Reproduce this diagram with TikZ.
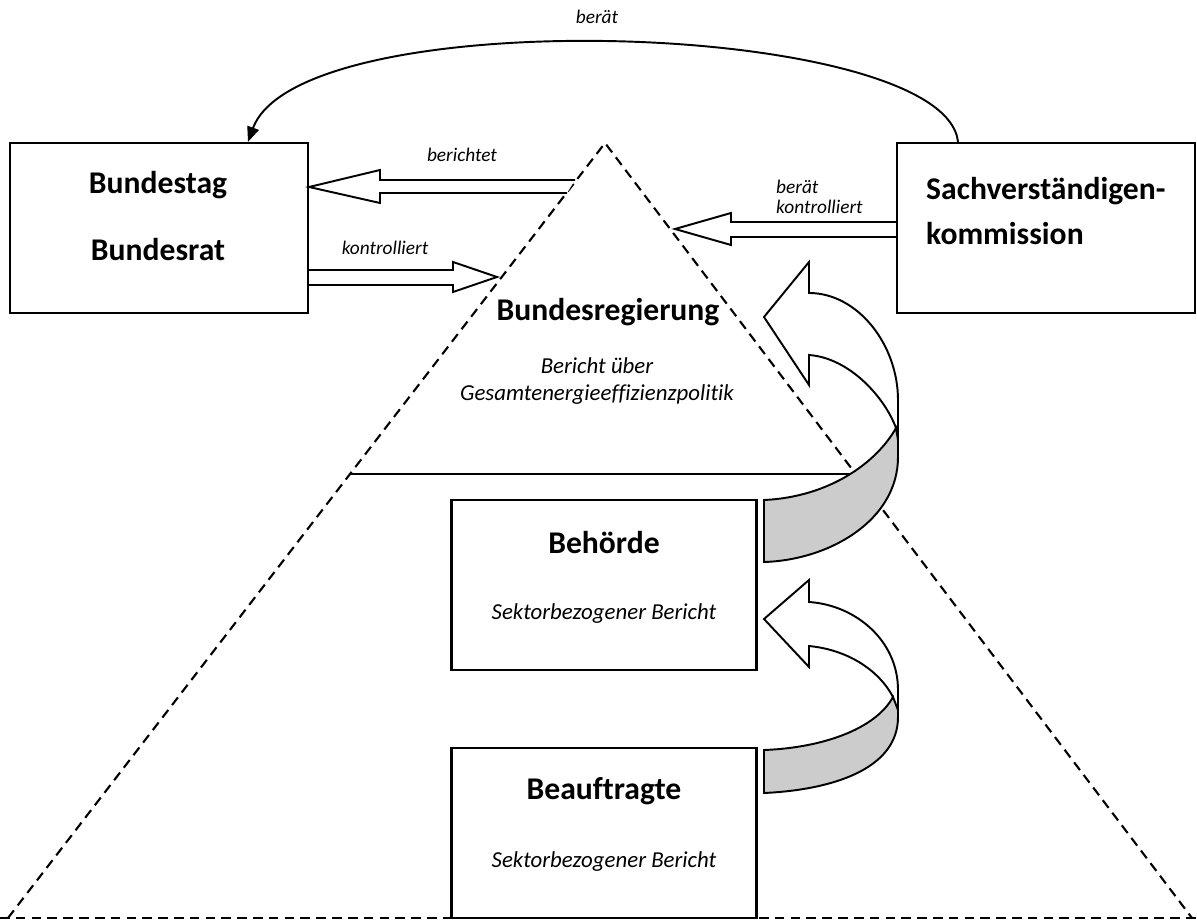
\documentclass[tikz,border=0pt]{standalone}
\usepackage{fontspec}
\setmainfont{Carlito}[Ligatures=NoCommon]
\usetikzlibrary{arrows.meta}

\begin{document}
\begin{tikzpicture}[
    x=0.02cm, y=-0.02cm,
    every node/.style={align=center},
    box/.style={
        rectangle,
        draw,
        line width=1.3pt,
        fill=white,
        inner sep=0pt,
        minimum width=5.96cm,
        minimum height=3.4cm
    },
    level/.style={box, minimum width=6.1cm},
    title/.style={font=\fontsize{18}{26}\selectfont\bfseries},
    note/.style={font=\fontsize{13}{15.5}\selectfont\itshape},
    verb/.style={font=\fontsize{11}{11.5}\selectfont\itshape},
    edge/.style={dash pattern=on 5.5pt off 3.5pt, line width=1.2pt},
    hollow/.style={draw, line width=1.1pt, fill=white},
    band/.style={draw, line width=1.1pt, fill=gray!40}
]
\useasboundingbox (0,0) rectangle (1197,922);

% Pyramide
\draw[edge] (8,918) -- (605,143) -- (1192,918);
\draw[edge, line width=1.5pt] (0,918) -- (1197,918);
\draw[line width=1.3pt] (350,474) -- (856,474);

% Kästen
\node[box] (parl) at (159,228) {};
\node[box] (sach) at (1046,228) {};
\node[level] (behoerde) at (604,585) {};
\node[level] (beauftr) at (604,833) {};

\node[title] (bt) at (158,185) {Bundestag};
\node[title] (br) at (158,250) {Bundesrat};
\node[title, align=left, anchor=west] (sk) at (920,211) {Sachverständigen-\\kommission};
\node[title] (breg) at (608,312) {Bundesregierung};
\node[note] (bgep) at (597,381) {Bericht über\\Gesamtenergieeffizienzpolitik};
\node[title] (beh) at (604,543) {Behörde};
\node[note] (sb1) at (604,614) {Sektorbezogener Bericht};
\node[title] (bea) at (604,791) {Beauftragte};
\node[note] (sb2) at (604,862) {Sektorbezogener Bericht};

% Pfeile
\draw[hollow] (575,180) -- (380,180) -- (380,170) -- (parl.east |- 0,187)
    -- (380,203) -- (380,193) -- (567,193);
\node[verb] (l1) at (462,155) {berichtet};

\draw[hollow] (parl.east |- 0,270) -- (453,270) -- (453,262) -- (497,277)
    -- (453,292) -- (453,285) -- (parl.east |- 0,285);
\node[verb] (l2) at (385,248) {kontrolliert};

\draw[hollow] (sach.west |- 0,222) -- (731,222) -- (731,213) -- (675,229)
    -- (731,245) -- (731,237) -- (sach.west |- 0,237);
\node[verb, align=left, anchor=west] (l3) at (770,197) {berät\\kontrolliert};

\draw[line width=1.1pt, -{Triangle[length=0.3cm,width=0.24cm]}]
    ([xshift=-1.76cm]sach.north) .. controls (945,20) and (300,0) .. ([xshift=1.78cm]parl.north);
\node[verb] (l4) at (597,17) {berät};

% gebogene Pfeile
\draw[hollow] (896,428) .. controls (885,398) and (850,358) .. (809,355)
    -- (809,385) -- (764,317) -- (809,262) -- (809,293)
    .. controls (858,293) and (898,345) .. (898,400) -- (898,457);
\draw[band] (764,500) .. controls (830,497) and (877,462) .. (896,428)
    -- (898,440) -- (898,457) .. controls (898,520) and (830,560) .. (764,562) -- cycle;

\draw[hollow] (893,697) .. controls (880,672) and (850,650) .. (809,646)
    -- (809,667) -- (764,619) -- (809,580) -- (809,602)
    .. controls (855,605) and (898,640) .. (898,690) -- (898,717);
\draw[band] (764,750) .. controls (820,748) and (875,730) .. (893,697)
    -- (898,710) -- (898,717) .. controls (898,770) and (830,790) .. (764,793) -- cycle;
\end{tikzpicture}
\end{document}
